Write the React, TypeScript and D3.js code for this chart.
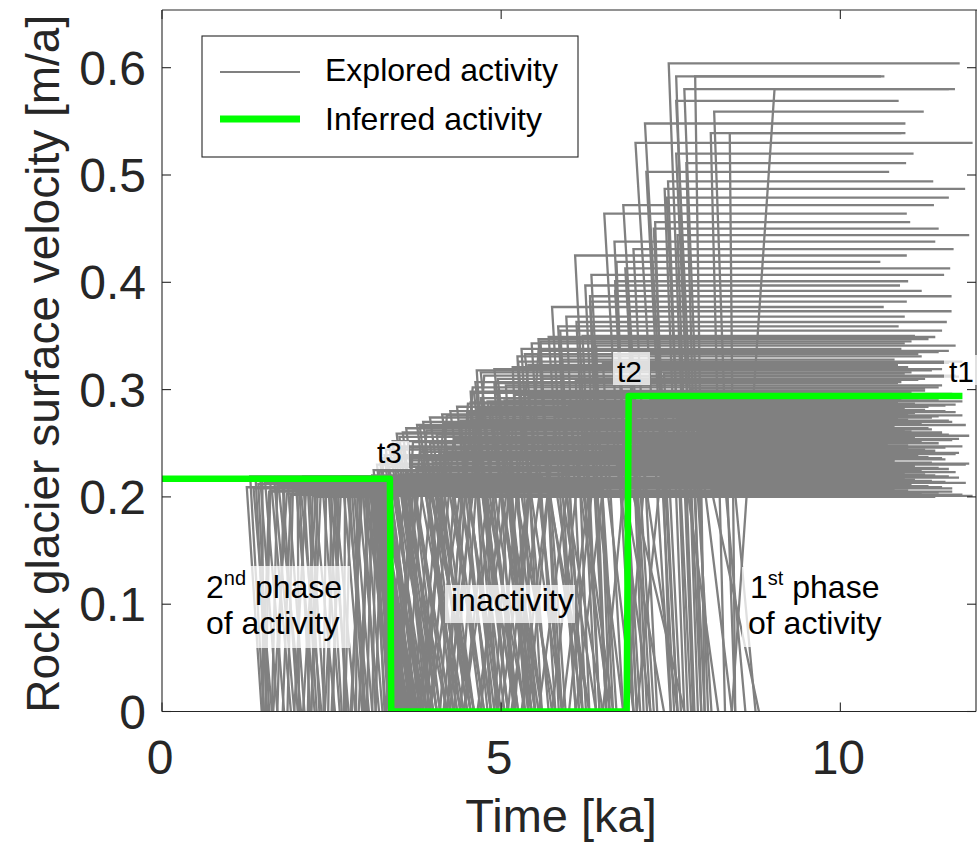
import React from 'react';
import * as d3 from 'd3';

const W = 977;
const H = 845;

const xTicks = [0, 5, 10];
const yTicks = [0, 0.1, 0.2, 0.3, 0.4, 0.5, 0.6];
const yTickLabels = ['0', '0.1', '0.2', '0.3', '0.4', '0.5', '0.6'];

// 1st phase explored paths: [velocity (m/a), start of plateau (ka), time at zero (ka), end t1 (ka)]
const phase1High: number[][] = [
  [0.604, 7.47, 7.83, 11.76], [0.592, 7.58, 7.9, 10.65], [0.592, 7.86, 8.0, 10.6],
  [0.58, 7.7, 8.05, 11.69], [0.58, 9.03, 8.4, 11.6], [0.569, 7.58, 8.0, 10.86],
  [0.559, 8.14, 8.45, 11.23], [0.548, 7.12, 7.6, 10.96], [0.539, 8.09, 8.3, 10.96],
  [0.539, 8.37, 8.45, 10.9], [0.53, 6.98, 7.5, 11.95], [0.52, 7.58, 7.95, 11.08],
  [0.511, 7.73, 7.95, 10.97], [0.503, 7.14, 7.55, 10.72], [0.494, 7.46, 7.75, 11.37],
  [0.487, 7.41, 7.7, 11.84], [0.479, 7.44, 7.8, 11.6], [0.472, 6.8, 7.25, 11.38],
  [0.464, 6.52, 6.95, 10.98], [0.456, 7.27, 7.5, 11.03], [0.45, 7.25, 7.6, 11.45],
  [0.444, 7.6, 7.85, 11.9], [0.438, 6.67, 7.0, 11.4], [0.431, 6.95, 7.3, 11.67],
  [0.425, 6.09, 6.45, 10.98], [0.419, 6.7, 6.95, 10.59], [0.413, 6.83, 7.2, 11.62],
  [0.407, 6.33, 6.65, 11.53], [0.401, 6.68, 7.0, 11.0], [0.397, 6.24, 6.55, 10.88],
  [0.392, 6.68, 7.05, 11.2], [0.387, 6.31, 6.55, 11.64], [0.382, 6.31, 6.7, 10.98],
  [0.377, 5.75, 6.1, 10.64], [0.373, 6.87, 7.1, 11.64], [0.368, 5.96, 6.25, 10.95],
  [0.363, 6.11, 6.4, 11.57], [0.359, 5.84, 6.15, 10.86], [0.355, 5.87, 6.2, 11.5],
  [0.35, 6.2, 6.45, 11.1], [0.347, 5.55, 5.9, 11.3],
];

const phase1Mid: number[][] = [
  [0.349, 5.7, 6.1, 11.4], [0.345, 5.58, 5.85, 11.05], [0.343, 5.45, 5.8, 10.95],
  [0.341, 6.4, 6.6, 11.7], [0.338, 5.3, 5.6, 10.9], [0.336, 5.55, 5.2, 11.6],
  [0.335, 6.9, 7.15, 11.45], [0.333, 5.35, 5.9, 11.15], [0.331, 5.24, 5.5, 11.2],
  [0.328, 5.9, 6.2, 10.8], [0.326, 5.25, 5.7, 11.8], [0.325, 6.5, 6.8, 11.6],
  [0.323, 5.4, 4.95, 10.85], [0.321, 5.17, 5.4, 11.0], [0.319, 4.9, 5.45, 11.5],
  [0.318, 4.64, 4.95, 11.35], [0.316, 4.7, 5.2, 11.05], [0.315, 7.4, 7.65, 10.95],
  [0.313, 4.75, 4.4, 11.7], [0.312, 5.6, 5.95, 11.75], [0.31, 4.95, 5.5, 11.25],
  [0.309, 6.1, 6.3, 11.15], [0.307, 4.62, 5.1, 10.9], [0.306, 4.9, 5.2, 10.85],
  [0.304, 5.07, 5.35, 11.5], [0.302, 4.58, 4.25, 11.45], [0.301, 7.8, 8.1, 11.25],
  [0.299, 4.95, 5.4, 11.25], [0.298, 4.55, 4.85, 11.05], [0.297, 4.6, 5.1, 10.95],
  [0.296, 6.3, 6.55, 11.65],
];

const phase1Band: number[][] = [
  [0.295, 5.2, 4.9, 11.6], [0.293, 5.4, 5.9, 11.4], [0.292, 4.7, 5.25, 11.15],
  [0.291, 7.2, 6.85, 10.9], [0.29, 5.05, 5.6, 11.45], [0.289, 4.8, 5.5, 11.8],
  [0.288, 4.55, 4.95, 10.85], [0.287, 4.51, 4.2, 11.1], [0.286, 4.85, 5.4, 11.7],
  [0.285, 6.0, 6.6, 11.55], [0.284, 4.35, 4.8, 11.3], [0.283, 8.2, 8.6, 10.95],
  [0.282, 4.65, 4.3, 10.9], [0.281, 5.1, 4.7, 11.25], [0.28, 4.25, 4.85, 11.55],
  [0.279, 6.6, 7.2, 11.7], [0.278, 4.5, 5.05, 11.1], [0.277, 4.13, 4.7, 11.0],
  [0.276, 4.2, 3.9, 11.8], [0.275, 5.8, 5.4, 11.45], [0.274, 3.95, 4.55, 11.35],
  [0.273, 7.6, 8.2, 10.85], [0.272, 4.6, 5.2, 11.0], [0.271, 4.4, 4.9, 11.6],
  [0.27, 3.85, 4.4, 11.65], [0.269, 6.9, 6.5, 11.15], [0.268, 4.15, 3.8, 11.2],
  [0.267, 3.76, 4.3, 11.85], [0.266, 3.8, 4.35, 10.8], [0.265, 5.3, 5.9, 10.75],
  [0.264, 3.6, 4.1, 11.3], [0.263, 4.9, 4.45, 11.35], [0.262, 3.9, 3.6, 10.95],
  [0.261, 7.9, 8.4, 11.05], [0.26, 3.55, 4.05, 11.5], [0.259, 3.46, 3.9, 11.5],
  [0.258, 4.05, 4.6, 11.6], [0.257, 6.2, 5.75, 11.9], [0.256, 3.5, 3.95, 11.1],
  [0.255, 4.6, 5.2, 10.9], [0.254, 4.3, 3.95, 11.75], [0.253, 5.6, 6.2, 11.65],
  [0.252, 3.4, 3.8, 10.85], [0.251, 3.7, 3.5, 11.2], [0.25, 3.95, 4.5, 11.45],
  [0.249, 7.05, 7.6, 10.7], [0.248, 4.5, 4.15, 11.0], [0.247, 3.35, 4.0, 11.8],
  [0.246, 3.55, 4.05, 11.55], [0.245, 4.2, 3.85, 11.0], [0.244, 3.3, 3.75, 11.25],
  [0.243, 6.5, 6.95, 11.4], [0.242, 3.8, 3.45, 10.9], [0.241, 5.0, 5.6, 11.75],
  [0.24, 4.15, 4.75, 11.7], [0.239, 3.28, 3.7, 10.95], [0.238, 3.45, 3.95, 11.15],
  [0.237, 8.4, 8.75, 11.3], [0.236, 3.25, 3.4, 11.5], [0.235, 3.9, 4.55, 11.55],
  [0.234, 3.65, 4.2, 10.8], [0.233, 5.45, 5.1, 10.8], [0.232, 4.0, 3.7, 11.35],
  [0.231, 3.22, 3.6, 11.9], [0.23, 3.17, 3.55, 11.85], [0.229, 6.75, 7.4, 11.1],
  [0.228, 3.35, 3.9, 11.05], [0.227, 4.45, 5.0, 11.45], [0.226, 3.75, 4.4, 11.6],
  [0.225, 3.12, 3.45, 10.85], [0.224, 3.2, 3.35, 11.2], [0.223, 5.9, 6.5, 11.7],
  [0.222, 3.6, 3.3, 10.95], [0.221, 3.5, 4.2, 11.25], [0.22, 3.1, 3.6, 11.4],
  [0.219, 7.35, 7.0, 11.6], [0.218, 3.4, 3.85, 11.75], [0.217, 4.75, 5.35, 10.95],
  [0.216, 3.85, 4.45, 11.1], [0.215, 3.05, 3.5, 11.35], [0.214, 3.15, 3.5, 11.55],
  [0.213, 6.35, 6.0, 11.85], [0.212, 3.7, 4.25, 10.85], [0.211, 4.05, 4.6, 11.05],
  [0.21, 3.02, 3.4, 11.3], [0.209, 5.2, 5.8, 11.5], [0.208, 3.45, 3.8, 11.65],
  [0.207, 8.1, 8.8, 10.8], [0.206, 3.95, 4.6, 11.0], [0.205, 3.0, 3.4, 11.65],
  [0.204, 3.08, 3.45, 11.45], [0.203, 5.7, 6.3, 11.2], [0.202, 3.55, 4.0, 11.8],
  [0.201, 6.95, 7.7, 11.95], [0.2, 4.3, 4.1, 11.4],
];

// 2nd phase explored paths: [time leaving zero (ka), end of plateau (ka), velocity (m/a), start of plateau (ka), time at zero (ka)]
const phase2: number[][] = [
  [3.55, 3.3, 0.209, 1.25, 1.47], [3.8, 3.34, 0.219, 1.3, 1.5], [3.6, 3.1, 0.218, 1.38, 1.55],
  [3.4, 3.8, 0.216, 1.45, 1.7], [3.45, 3.2, 0.215, 1.48, 1.49], [4.55, 4.1, 0.214, 1.52, 1.8],
  [3.7, 3.33, 0.213, 1.6, 1.52], [4.2, 4.6, 0.212, 1.66, 1.95], [3.5, 3.05, 0.211, 1.7, 1.62],
  [4.1, 3.6, 0.21, 1.72, 2.05], [5.55, 5.1, 0.209, 1.8, 1.7], [3.62, 3.15, 0.208, 1.86, 2.1],
  [3.95, 4.4, 0.207, 1.93, 1.85], [3.75, 3.22, 0.206, 1.98, 2.25], [5.0, 5.4, 0.205, 2.0, 2.02],
  [3.58, 3.12, 0.204, 2.05, 2.35], [3.48, 3.29, 0.203, 2.12, 1.95], [6.4, 5.9, 0.202, 2.18, 2.4],
  [3.42, 3.7, 0.201, 2.22, 2.15], [3.85, 3.32, 0.2, 2.25, 2.55], [5.25, 4.8, 0.2175, 2.3, 2.2],
  [3.52, 3.08, 0.217, 2.36, 2.62], [3.8, 4.2, 0.214, 2.42, 2.38], [3.9, 3.2, 0.211, 2.48, 2.75],
  [6.65, 6.2, 0.208, 2.5, 2.45], [3.46, 3.27, 0.205, 2.55, 2.85], [4.35, 3.9, 0.202, 2.6, 2.52],
  [5.15, 5.6, 0.219, 2.66, 2.95], [3.66, 3.24, 0.216, 2.7, 2.68], [4.95, 4.5, 0.213, 2.72, 3.05],
  [3.64, 3.1, 0.21, 2.78, 2.7], [6.1, 6.5, 0.207, 2.83, 3.1], [3.5, 3.21, 0.204, 2.88, 2.86],
  [5.45, 5.0, 0.201, 2.9, 3.2], [3.72, 3.16, 0.218, 2.93, 2.8], [3.44, 3.31, 0.215, 2.98, 3.25],
  [6.3, 5.8, 0.212, 3.03, 2.95], [3.68, 3.23, 0.209, 3.08, 3.3], [4.75, 4.3, 0.206, 3.1, 3.02],
  [3.57, 3.19, 0.203, 3.12, 3.34], [5.55, 6.0, 0.218, 3.16, 3.1], [3.82, 3.26, 0.217, 3.2, 3.36],
  [5.1, 4.7, 0.214, 3.24, 3.15], [3.47, 3.35, 0.211, 3.28, 3.34], [6.8, 6.4, 0.208, 1.35, 1.62],
  [3.62, 3.11, 0.205, 1.58, 1.48], [3.95, 3.5, 0.2185, 1.77, 2.0], [5.75, 5.3, 0.202, 1.9, 1.78],
  [3.53, 3.17, 0.219, 2.08, 2.28], [4.5, 4.0, 0.216, 2.28, 2.08], [3.7, 3.13, 0.213, 2.45, 2.65],
  [5.3, 5.7, 0.21, 2.58, 2.4], [3.43, 3.23, 0.207, 2.76, 2.98], [4.45, 4.9, 0.204, 2.95, 2.78],
  [3.78, 3.18, 0.201, 3.14, 3.28], [4.05, 3.55, 0.212, 1.42, 1.58], [3.5, 3.28, 0.206, 1.62, 1.9],
  [4.85, 4.4, 0.203, 1.84, 1.64], [3.66, 3.2, 0.216, 2.02, 2.18], [5.9, 6.3, 0.209, 2.15, 2.32],
  [3.74, 3.14, 0.205, 2.34, 2.2], [4.25, 3.7, 0.218, 2.52, 2.72], [3.49, 3.3, 0.211, 2.64, 2.5],
  [5.35, 4.9, 0.207, 2.8, 3.0], [3.6, 3.09, 0.202, 2.97, 3.15], [4.65, 5.1, 0.214, 3.06, 2.9],
  [3.86, 3.25, 0.208, 3.18, 3.35],
];

// Inferred activity history
const inferredT = [0, 3.36, 3.38, 6.85, 6.88, 11.8];
const inferredV = [0.217, 0.217, 0, 0, 0.294, 0.294];

const FONT = '"Liberation Sans", Arial, Helvetica, sans-serif';
const AX = '#262626';
const GREY = '#808080';
const GREEN = '#00ff00';

export default function App() {
  const left = 162, right = 976, top = 10, bottom = 711.5;
  const x = d3.scaleLinear().domain([0, 12]).range([left, right]);
  const y = d3.scaleLinear().domain([0, 0.6]).range([bottom, 67.7]);
  const line = d3.line<[number, number]>().x((d) => x(d[0])).y((d) => y(d[1]));

  const p1 = [...phase1High, ...phase1Mid, ...phase1Band].map(([v, a, b, t1]) =>
    line([[t1, v], [a, v], [b, 0]]) as string
  );
  const p2 = phase2.map(([c, d, v, e, f]) =>
    line([[c, 0], [d, v], [e, v], [f, 0]]) as string
  );
  const inferred = line(inferredT.map((t, i) => [t, inferredV[i]] as [number, number])) as string;

  const boxOpacity = 0.75;

  return (
    <svg
      width={W}
      height={H}
      viewBox={`0 0 ${W} ${H}`}
      style={{ position: 'absolute', left: 0, top: 0, background: '#fff' }}
      fontFamily={FONT}
    >
      <defs>
        <clipPath id="plotclip">
          <rect x={left} y={top} width={right - left} height={bottom - top} />
        </clipPath>
      </defs>
      <rect x={0} y={0} width={W} height={H} fill="#fff" />

      <g clipPath="url(#plotclip)" fill="none" stroke={GREY} strokeWidth={2.3}>
        {p2.map((d, i) => (
          <path key={'b' + i} d={d} />
        ))}
        {p1.map((d, i) => (
          <path key={'a' + i} d={d} />
        ))}
      </g>

      <path d={inferred} fill="none" stroke={GREEN} strokeWidth={6.5} strokeLinejoin="round" clipPath="url(#plotclip)" />

      {/* axes box */}
      <g stroke={AX} strokeWidth={1.1} fill="none">
        <line x1={left} y1={top} x2={left} y2={bottom} />
        <line x1={left} y1={bottom} x2={right} y2={bottom} />
        <line x1={left} y1={top} x2={W} y2={top} />
        <line x1={right} y1={top} x2={right} y2={bottom} />
        {yTicks.map((t) => (
          <g key={'yt' + t}>
            <line x1={left} x2={left + 9} y1={y(t)} y2={y(t)} />
            <line x1={right} x2={right - 9} y1={y(t)} y2={y(t)} />
          </g>
        ))}
        {xTicks.map((t) => (
          <g key={'xt' + t}>
            <line x1={x(t)} x2={x(t)} y1={bottom} y2={bottom - 9} />
            <line x1={x(t)} x2={x(t)} y1={top} y2={top + 9} />
          </g>
        ))}
      </g>

      {/* tick labels */}
      <g fill={AX} fontSize={48}>
        {yTicks.map((t, i) => (
          <text key={'yl' + t} x={146} y={y(t) + 17} textAnchor="end">
            {yTickLabels[i]}
          </text>
        ))}
        {xTicks.map((t) => (
          <text key={'xl' + t} x={x(t) - 2} y={774} textAnchor="middle">
            {t}
          </text>
        ))}
      </g>

      {/* axis labels */}
      <text x={561} y={832} textAnchor="middle" fontSize={47} fill={AX}>
        Time [ka]
      </text>
      <text
        transform={`translate(59, ${(top + bottom) / 2 + 3}) rotate(-90)`}
        textAnchor="middle"
        fontSize={46}
        fill={AX}
      >
        Rock glacier surface velocity [m/a]
      </text>

      {/* annotations */}
      <g fill="#fff" fillOpacity={boxOpacity}>
        <rect x={372} y={441} width={37} height={28} />
        <rect x={613} y={352} width={37} height={33} />
        <rect x={944} y={355} width={34} height={30} />
        <rect x={200} y={566} width={150} height={82} />
        <rect x={445} y={585} width={130} height={38} />
        <rect x={742} y={567} width={140} height={80} />
      </g>
      <g fill="#000" fontSize={32}>
        <text x={377} y={463} fontSize={30}>t3</text>
        <text x={617} y={382} fontSize={30}>t2</text>
        <text x={949} y={382} fontSize={30}>t1</text>
        <text x={206} y={598}>
          2<tspan fontSize={20} dy={-13}>nd</tspan>
          <tspan dy={13}> phase</tspan>
        </text>
        <text x={206} y={634}>of activity</text>
        <text x={451} y={611}>inactivity</text>
        <text x={750} y={598}>
          1<tspan fontSize={20} dy={-13}>st</tspan>
          <tspan dy={13}> phase</tspan>
        </text>
        <text x={748} y={634}>of activity</text>
      </g>

      {/* legend */}
      <rect x={202} y={36} width={376} height={121} fill="#fff" stroke={AX} strokeWidth={1.1} />
      <line x1={220} x2={300} y1={72} y2={72} stroke={GREY} strokeWidth={2.2} />
      <line x1={220} x2={300} y1={119} y2={119} stroke={GREEN} strokeWidth={7} />
      <text x={325} y={81} fontSize={32} fill="#000">Explored activity</text>
      <text x={325} y={130} fontSize={32} fill="#000">Inferred activity</text>
    </svg>
  );
}
